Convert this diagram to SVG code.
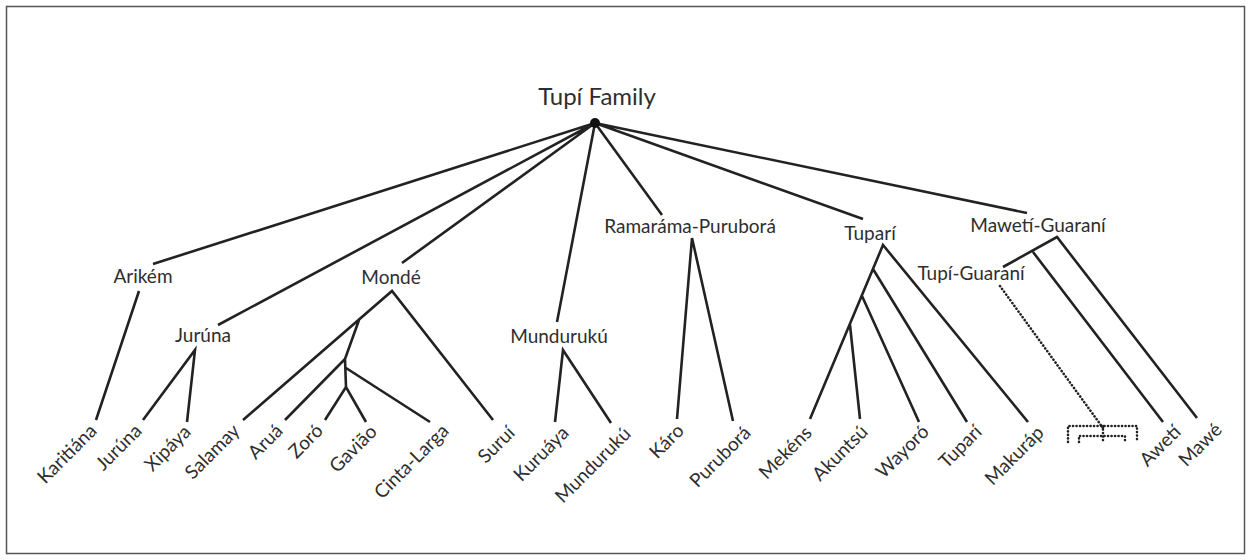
<svg xmlns="http://www.w3.org/2000/svg" width="1251" height="560" viewBox="0 0 1251 560">
<style>
.t{font-family:Lato,"Liberation Sans",sans-serif;font-size:19px;fill:#2e2e2e;text-anchor:middle}
.leaf{font-family:Lato,"Liberation Sans",sans-serif;font-size:19px;fill:#2e2e2e;text-anchor:end}
.ln{stroke:#222;stroke-width:2.6;fill:none;stroke-linecap:butt}
.dot{stroke:#222;stroke-width:2.6;fill:none;stroke-dasharray:0.1 3.4;stroke-linecap:round}
</style>
<rect x="6.5" y="6.5" width="1238" height="547" fill="#fff" stroke="#555" stroke-width="1.5"/>
<g id="connectors">
<path class="ln" d="M595,123 L153,264 M595,123 L218,325 M595,123 L402,263 M595,123 L557,322 M595,123 L662,215 M595,123 L863,219 M595,123 L1027,213"/>
<path class="ln" d="M139,291 L96,420"/>
<path class="ln" d="M143,420 L195,350 L187,422"/>
<path class="ln" d="M243,420 L392,291 L493,420 M359,320 L345,359 L285,420 M345,359 L346,387 M346,368 L430,422 M325,420 L346,387 L366,422"/>
<path class="ln" d="M555,422 L563,350 L611,423"/>
<path class="ln" d="M677,419 L692,238 L733,421"/>
<path class="ln" d="M810,419 L883,245 L1028,422 M873,269 L967,422 M862,296 L919,422 M850,325 L860,419"/>
<path class="ln" d="M1003,267 L1057,237 L1197,418 M1033,252 L1163,422"/>
<path class="dot" d="M1000,286 L1103,428 M1068,442 V426 H1137 V442 M1079,442 V436 H1125 V442 M1103,426 V442"/>
</g>
<g id="root"><circle cx="595" cy="123" r="5" fill="#111"/><text class="t" x="597" y="105" style="font-size:24px">Tupí Family</text></g>
<g id="arikem"><text class="t" x="143" y="283">Arikém</text></g>
<g id="jiruna-group"><text class="t" x="203" y="342">Jurúna</text></g>
<g id="monde"><text class="t" x="391" y="284">Mondé</text></g>
<g id="munduruku-group"><text class="t" x="559" y="343">Mundurukú</text></g>
<g id="ramarama"><text class="t" x="690" y="233">Ramaráma-Puruborá</text></g>
<g id="tupari-group"><text class="t" x="870" y="240">Tuparí</text></g>
<g id="maweti"><text class="t" x="1038" y="232">Mawetí-Guaraní</text></g>
<g id="tupi-guarani"><text class="t" x="971" y="280">Tupí-Guaraní</text></g>
<g id="karitiana"><text class="leaf" transform="translate(98,432) rotate(-45)">Karitiána</text></g>
<g id="juruna"><text class="leaf" transform="translate(143,432) rotate(-45)">Jurúna</text></g>
<g id="xipaya"><text class="leaf" transform="translate(192,433) rotate(-45)">Xipáya</text></g>
<g id="salamay"><text class="leaf" transform="translate(241,432) rotate(-45)">Salamay</text></g>
<g id="arua"><text class="leaf" transform="translate(284,432) rotate(-45)">Aruá</text></g>
<g id="zoro"><text class="leaf" transform="translate(324,432) rotate(-45)">Zoró</text></g>
<g id="gaviao"><text class="leaf" transform="translate(378,433) rotate(-45)">Gavião</text></g>
<g id="cinta-larga"><text class="leaf" transform="translate(450,432) rotate(-45)">Cinta-Larga</text></g>
<g id="surui"><text class="leaf" transform="translate(516,434) rotate(-45)">Suruí</text></g>
<g id="kuruaya"><text class="leaf" transform="translate(570,434) rotate(-45)">Kuruáya</text></g>
<g id="munduruku"><text class="leaf" transform="translate(632,435) rotate(-45)">Mundurukú</text></g>
<g id="karo"><text class="leaf" transform="translate(685,432) rotate(-45)">Káro</text></g>
<g id="purubora"><text class="leaf" transform="translate(752,434) rotate(-45)">Puruborá</text></g>
<g id="mekens"><text class="leaf" transform="translate(813,434) rotate(-45)">Mekéns</text></g>
<g id="akuntsu"><text class="leaf" transform="translate(869,433) rotate(-45)">Akuntsú</text></g>
<g id="wayoro"><text class="leaf" transform="translate(930,433) rotate(-45)">Wayoró</text></g>
<g id="tupari-leaf"><text class="leaf" transform="translate(983,433) rotate(-45)">Tuparí</text></g>
<g id="makurap"><text class="leaf" transform="translate(1045,434) rotate(-45)">Makuráp</text></g>
<g id="aweti"><text class="leaf" transform="translate(1182,433) rotate(-45)">Awetí</text></g>
<g id="mawe"><text class="leaf" transform="translate(1223,431) rotate(-45)">Mawé</text></g>
</svg>
